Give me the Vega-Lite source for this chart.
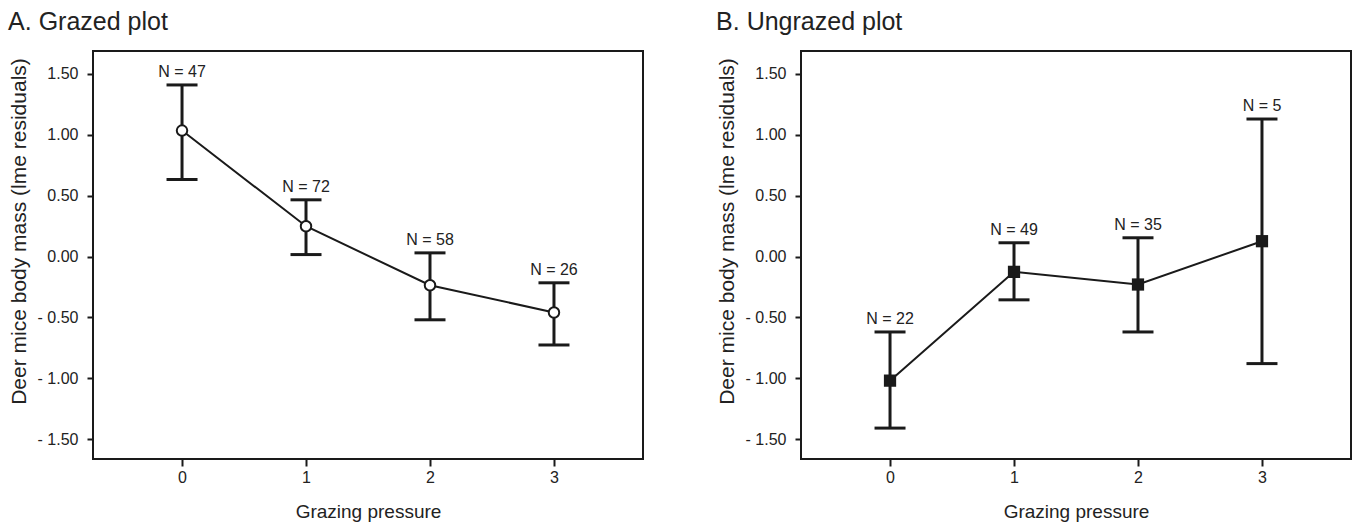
{
  "$schema": "https://vega.github.io/schema/vega-lite/v6.json",
  "padding": {"left": 7, "top": 9, "right": 0, "bottom": 0},
  "datasets": {
    "grazed": [
      {"pressure": 0, "mean": 1.035, "lo": 0.633, "hi": 1.41, "label": "N = 47"},
      {"pressure": 1, "mean": 0.249, "lo": 0.016, "hi": 0.466, "label": "N = 72"},
      {"pressure": 2, "mean": -0.236, "lo": -0.52, "hi": 0.03, "label": "N = 58"},
      {"pressure": 3, "mean": -0.46, "lo": -0.727, "hi": -0.216, "label": "N = 26"}
    ],
    "ungrazed": [
      {"pressure": 0, "mean": -1.02, "lo": -1.41, "hi": -0.62, "label": "N = 22"},
      {"pressure": 1, "mean": -0.126, "lo": -0.356, "hi": 0.113, "label": "N = 49"},
      {"pressure": 2, "mean": -0.23, "lo": -0.62, "hi": 0.154, "label": "N = 35"},
      {"pressure": 3, "mean": 0.126, "lo": -0.88, "hi": 1.13, "label": "N = 5"}
    ]
  },
  "spacing": 71,
  "hconcat": [
    {
      "title": "A. Grazed plot",
      "width": 550,
      "height": 408,
      "data": {"name": "grazed"},
      "encoding": {
        "x": {"field": "pressure", "type": "quantitative", "scale": {"domain": [-0.718, 3.718], "nice": false, "zero": false},
              "axis": {"values": [0, 1, 2, 3], "format": "d", "title": "Grazing pressure"}}
      },
      "layer": [
        {"mark": {"type": "rule", "strokeWidth": 3, "color": "#1a1a1a"},
         "encoding": {"y": {"field": "lo", "type": "quantitative", "scale": {"domain": [-1.664, 1.689], "nice": false, "zero": false},
                            "axis": {"values": [-1.5, -1, -0.5, 0, 0.5, 1, 1.5], "labelExpr": "datum.value < 0 ? '- ' + format(-datum.value, '.2f') : format(datum.value, '.2f')", "title": "Deer mice body mass (lme residuals)"}},
                      "y2": {"field": "hi"}}},
        {"mark": {"type": "tick", "orient": "horizontal", "size": 31, "thickness": 3, "color": "#1a1a1a", "opacity": 1},
         "encoding": {"y": {"field": "hi", "type": "quantitative"}}},
        {"mark": {"type": "tick", "orient": "horizontal", "size": 31, "thickness": 3, "color": "#1a1a1a", "opacity": 1},
         "encoding": {"y": {"field": "lo", "type": "quantitative"}}},
        {"mark": {"type": "line", "strokeWidth": 2, "color": "#1a1a1a"},
         "encoding": {"y": {"field": "mean", "type": "quantitative"}}},
        {"mark": {"type": "point", "shape": "circle", "filled": true, "fill": "white", "stroke": "#1a1a1a", "strokeWidth": 2, "size": 110, "opacity": 1},
         "encoding": {"y": {"field": "mean", "type": "quantitative"}}},
        {"mark": {"type": "text", "fontSize": 16, "font": "Liberation Sans", "color": "#222", "baseline": "alphabetic", "dy": -8},
         "encoding": {"y": {"field": "hi", "type": "quantitative"}, "text": {"field": "label", "type": "nominal"}}}
      ]
    },
    {
      "title": "B. Ungrazed plot",
      "width": 550,
      "height": 408,
      "data": {"name": "ungrazed"},
      "encoding": {
        "x": {"field": "pressure", "type": "quantitative", "scale": {"domain": [-0.718, 3.718], "nice": false, "zero": false},
              "axis": {"values": [0, 1, 2, 3], "format": "d", "title": "Grazing pressure"}}
      },
      "layer": [
        {"mark": {"type": "rule", "strokeWidth": 3, "color": "#1a1a1a"},
         "encoding": {"y": {"field": "lo", "type": "quantitative", "scale": {"domain": [-1.664, 1.689], "nice": false, "zero": false},
                            "axis": {"values": [-1.5, -1, -0.5, 0, 0.5, 1, 1.5], "labelExpr": "datum.value < 0 ? '- ' + format(-datum.value, '.2f') : format(datum.value, '.2f')", "title": "Deer mice body mass (lme residuals)"}},
                      "y2": {"field": "hi"}}},
        {"mark": {"type": "tick", "orient": "horizontal", "size": 31, "thickness": 3, "color": "#1a1a1a", "opacity": 1},
         "encoding": {"y": {"field": "hi", "type": "quantitative"}}},
        {"mark": {"type": "tick", "orient": "horizontal", "size": 31, "thickness": 3, "color": "#1a1a1a", "opacity": 1},
         "encoding": {"y": {"field": "lo", "type": "quantitative"}}},
        {"mark": {"type": "line", "strokeWidth": 2, "color": "#1a1a1a"},
         "encoding": {"y": {"field": "mean", "type": "quantitative"}}},
        {"mark": {"type": "point", "shape": "square", "filled": true, "color": "#1a1a1a", "size": 150, "opacity": 1},
         "encoding": {"y": {"field": "mean", "type": "quantitative"}}},
        {"mark": {"type": "text", "fontSize": 16, "font": "Liberation Sans", "color": "#222", "baseline": "alphabetic", "dy": -8},
         "encoding": {"y": {"field": "hi", "type": "quantitative"}, "text": {"field": "label", "type": "nominal"}}}
      ]
    }
  ],
  "config": {
    "view": {"stroke": "#1a1a1a", "strokeWidth": 2},
    "axis": {"grid": false, "domain": false, "tickColor": "#1a1a1a", "tickWidth": 2, "labelFont": "Liberation Sans", "titleFont": "Liberation Sans", "labelColor": "#222", "titleColor": "#222", "titleFontWeight": "normal"},
    "axisY": {"tickSize": 6, "labelPadding": 9, "labelFontSize": 16, "titleFontSize": 21, "titlePadding": 8, "titleY": 180},
    "axisX": {"tickSize": 7, "labelPadding": 3, "labelFontSize": 16, "titleFontSize": 19, "titlePadding": 17},
    "title": {"anchor": "start", "frame": "bounds", "fontSize": 25, "fontWeight": "normal", "font": "Liberation Sans", "color": "#222", "offset": 16}
  }
}
